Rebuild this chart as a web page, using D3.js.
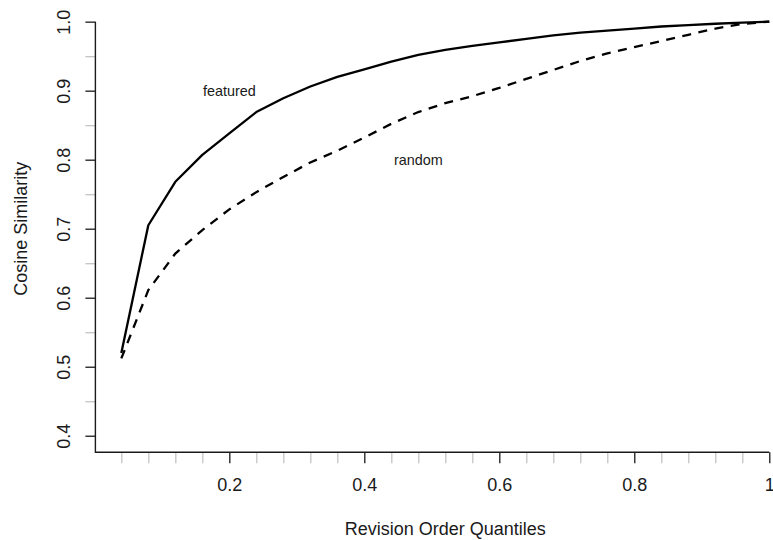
<!DOCTYPE html>
<html>
<head>
<meta charset="utf-8">
<script src="https://cdn.jsdelivr.net/npm/d3@7"></script>
<style>
	html, body { margin: 0; padding: 0; background: #fff; }
	svg { display: block; font-family: "Liberation Sans", Arial, Helvetica, sans-serif; }
</style>
</head>
<body>
<div id="chart"></div>
<script>
// Revision-order quantiles (x) and the two cosine-similarity curves.
const quantiles = [0.04, 0.08, 0.12, 0.16, 0.20, 0.24, 0.28, 0.32, 0.36, 0.40, 0.44, 0.48, 0.52,
	0.56, 0.60, 0.64, 0.68, 0.72, 0.76, 0.80, 0.84, 0.88, 0.92, 0.96, 1.00];
const featured = [0.520, 0.705, 0.768, 0.807, 0.838, 0.869, 0.889, 0.906, 0.920, 0.931, 0.942, 0.952, 0.959,
	0.965, 0.970, 0.975, 0.980, 0.984, 0.987, 0.990, 0.993, 0.995, 0.997, 0.9985, 1.000];
const random = [0.512, 0.611, 0.664, 0.698, 0.728, 0.753, 0.775, 0.796, 0.813, 0.832, 0.852, 0.869, 0.882,
	0.892, 0.904, 0.917, 0.930, 0.943, 0.954, 0.963, 0.972, 0.981, 0.990, 0.9967, 1.000];

const xTicks = [0.2, 0.4, 0.6, 0.8, 1.0];
const xTickLabels = ['0.2', '0.4', '0.6', '0.8', '1'];
const xMinorTicks = quantiles.filter((q) => Math.abs(q * 5 - Math.round(q * 5)) > 1e-6);
const yTicks = [0.4, 0.5, 0.6, 0.7, 0.8, 0.9, 1.0];
const yTickLabels = ['0.4', '0.5', '0.6', '0.7', '0.8', '0.9', '1.0'];
const yMinorTicks = [0.45, 0.55, 0.65, 0.75, 0.85, 0.95];

// Curve labels sit in data coordinates, like R's text(x, y, label).
const curveLabels = [
	{ name: 'featured', x: 0.2, y: 0.9 },
	{ name: 'random', x: 0.48, y: 0.8 },
];

const WIDTH = 773;
const HEIGHT = 540;
const INK = '#1a1a1a';
const MINOR = '#c4c4c4';

// R pads the data range by 4%; the right side of the original plot region runs off the image.
const x = d3.scaleLinear().domain([0.0016, 1.0384]).range([95.4, 795.2]);
const y = d3.scaleLinear().domain([0.376, 1.024]).range([452.3, 5.1]);

const svg = d3.select('#chart').append('svg')
	.attr('width', WIDTH).attr('height', HEIGHT)
	.attr('viewBox', `0 0 ${WIDTH} ${HEIGHT}`);

const bottom = y.range()[0];
const left = x.range()[0];

// Minor ticks first, so the black majors draw over them.
const xMinor = svg.append('g').attr('transform', `translate(0, ${bottom})`)
	.call(d3.axisBottom(x).tickValues(xMinorTicks).tickSize(11).tickFormat(''));
const yMinor = svg.append('g').attr('transform', `translate(${left}, 0)`)
	.call(d3.axisLeft(y).tickValues(yMinorTicks).tickSize(10).tickFormat(''));
[xMinor, yMinor].forEach((g) => {
	g.select('.domain').remove();
	g.selectAll('line').attr('stroke', MINOR).attr('stroke-width', 1.3);
});

const xAxis = svg.append('g').attr('transform', `translate(0, ${bottom})`)
	.call(d3.axisBottom(x).tickValues(xTicks).tickSize(11).tickFormat((d, i) => xTickLabels[i]));
xAxis.select('.domain').remove();
xAxis.selectAll('line').attr('stroke', INK).attr('stroke-width', 1.3);
xAxis.selectAll('text')
	.attr('y', 39.2).attr('dy', 0)
	.attr('fill', INK).attr('font-size', '18px')
	.attr('font-family', '"Liberation Sans", Arial, Helvetica, sans-serif');

const yAxis = svg.append('g').attr('transform', `translate(${left}, 0)`)
	.call(d3.axisLeft(y).tickValues(yTicks).tickSize(10).tickFormat((d, i) => yTickLabels[i]));
yAxis.select('.domain').remove();
yAxis.selectAll('line').attr('stroke', INK).attr('stroke-width', 1.3);
// R default las=0: y labels read bottom-to-top, parallel to the axis.
yAxis.selectAll('text')
	.attr('x', 0).attr('dy', 0)
	.attr('text-anchor', 'middle')
	.attr('transform', 'translate(-25.4, 0) rotate(-90)')
	.attr('fill', INK).attr('font-size', '18px')
	.attr('font-family', '"Liberation Sans", Arial, Helvetica, sans-serif');

// L-shaped frame: left edge from 1.0 down, bottom edge out to x = 1.
svg.append('path')
	.attr('d', `M${left},${y(1)} V${bottom} H${x(1)}`)
	.attr('fill', 'none').attr('stroke', INK).attr('stroke-width', 1.4);

const line = d3.line()
	.x((d) => x(d[0]))
	.y((d) => y(d[1]));

svg.append('path')
	.datum(quantiles.map((q, i) => [q, featured[i]]))
	.attr('d', line)
	.attr('fill', 'none').attr('stroke', '#000').attr('stroke-width', 2.3)
	.attr('stroke-linejoin', 'round');

svg.append('path')
	.datum(quantiles.map((q, i) => [q, random[i]]))
	.attr('d', line)
	.attr('fill', 'none').attr('stroke', '#000').attr('stroke-width', 2.3)
	.attr('stroke-dasharray', '9,7.5');

svg.selectAll('text.curve-label')
	.data(curveLabels)
	.join('text')
	.attr('class', 'curve-label')
	.attr('x', (d) => x(d.x)).attr('y', (d) => y(d.y))
	.attr('dy', '0.35em').attr('text-anchor', 'middle')
	.attr('fill', INK).attr('font-size', '14.4px')
	.text((d) => d.name);

// Axis titles
svg.append('text')
	.attr('x', (x.range()[0] + x.range()[1]) / 2).attr('y', 535)
	.attr('text-anchor', 'middle').attr('fill', INK).attr('font-size', '18px')
	.text('Revision Order Quantiles');

svg.append('text')
	.attr('transform', `translate(27, ${(y.range()[0] + y.range()[1]) / 2}) rotate(-90)`)
	.attr('text-anchor', 'middle').attr('fill', INK).attr('font-size', '18px')
	.text('Cosine Similarity');
</script>
</body>
</html>
